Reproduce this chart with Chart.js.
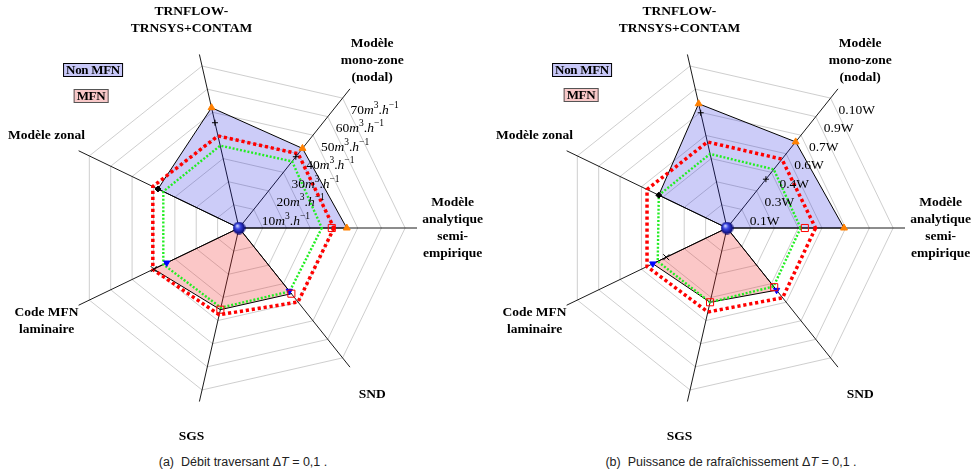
<!DOCTYPE html>
<html>
<head>
<meta charset="utf-8">
<script src="https://cdn.jsdelivr.net/npm/chart.js@4.4.1/dist/chart.umd.min.js"></script>
<style>
  body { margin: 0; background: #fff; }
  #wrap { position: relative; width: 976px; height: 470px; overflow: hidden; }
  #wrap canvas { position: absolute; top: 0; }
  .tag { position: absolute; transform: translate(-50%, -50%); font: bold 13px "Liberation Serif", serif;
         line-height: 12px; padding: 0 2px; white-space: nowrap; letter-spacing: -0.3px; }
  .nonmfn { background: #c8c8f8; border: 1px solid #000; }
  .mfn { background: #f8c8c8; border: 1px solid #555; }
  .caption { position: absolute; transform: translateX(-50%); top: 455px; white-space: nowrap;
             font: 12.5px "Liberation Sans", Arial, sans-serif; color: #222; }
</style>
</head>
<body>
<div id="wrap">
  <canvas id="debit" width="488" height="450" style="left:0"></canvas>
  <canvas id="puissance" width="488" height="450" style="left:488px"></canvas>

  <div class="tag nonmfn" style="left:93px;top:70px">Non MFN</div>
  <div class="tag mfn" style="left:91px;top:96px">MFN</div>
  <div class="tag nonmfn" style="left:582px;top:70px">Non MFN</div>
  <div class="tag mfn" style="left:581px;top:95px">MFN</div>

  <div class="caption" style="left:243px">(a)&nbsp;&nbsp;Débit traversant Δ<i>T</i> = 0,1 .</div>
  <div class="caption" style="left:731px">(b)&nbsp;&nbsp;Puissance de rafraîchissement Δ<i>T</i> = 0,1 .</div>
</div>

<script>
// axes, clockwise from the right-hand one
const models = [
  ['Modèle', 'analytique', 'semi-', 'empirique'],
  ['SND'],
  ['SGS'],
  ['Code MFN', 'laminaire'],
  ['Modèle zonal'],
  ['TRNFLOW-', 'TRNSYS+CONTAM'],
  ['Modèle', 'mono-zone', '(nodal)']
];

// (a) débit traversant
const debitTicks = ['10m³.h⁻¹', '20m³.h⁻¹', '30m³.h⁻¹', '40m³.h⁻¹', '50m³.h⁻¹', '60m³.h⁻¹', '70m³.h⁻¹'];
const debitNonMfn = [45.4, 0, 0, 0, 37.9, 52.0, 42.9];
const debitMfn = [0, 35.4, 35.3, 39.9, 0, 0, 0];
const debitTriangle = [45.4, null, null, null, null, 52.0, 42.9];
const debitPlus = [null, null, null, null, null, 45.5, 38.4];
const debitCross = [null, null, null, 39.9, null, null, null];
const debitDiamond = [null, null, null, null, 37.9, null, null];
const debitSquare = [39.1, 35.4, 35.3, null, null, null, null];
const debitTriDown = [null, 34.0, null, 33.8, null, null, null];
const debitRed = [40.0, 39.9, 37.5, 40.3, 40.3, 39.8, 40.0];
const debitGreen = [34.9, 34.2, 34.4, 35.4, 35.4, 35.6, 35.9];

// (b) puissance de rafraîchissement
const puissTicks = ['0.1W', '0.3W', '0.4W', '0.6W', '0.7W', '0.9W', '0.10W'];
const puissNonMfn = [0.493, 0, 0, 0, 0.319, 0.537, 0.464];
const puissMfn = [0, 0.335, 0.321, 0.347, 0, 0, 0];
const puissTriangle = [0.493, null, null, null, null, 0.537, 0.464];
const puissPlus = [null, null, null, null, null, 0.498, 0.263];
const puissCross = [null, null, null, 0.284, null, null, null];
const puissDiamond = [null, null, null, null, 0.319, null, null];
const puissSquare = [0.328, 0.319, 0.321, null, null, null, null];
const puissTriDown = [null, 0.335, null, 0.347, null, null, null];
const puissRed = [0.373, 0.376, 0.363, 0.374, 0.374, 0.372, 0.371];
const puissGreen = [0.310, 0.315, 0.321, 0.324, 0.319, 0.320, 0.316];

const centre = [0, null, null, null, null, null, null];

// shaded blue sphere used as the centre marker
function makeBall(d) {
  const c = document.createElement('canvas');
  c.width = c.height = d;
  const g = c.getContext('2d');
  const grad = g.createRadialGradient(d * 0.36, d * 0.32, 0.5, d / 2, d / 2, d / 2);
  grad.addColorStop(0, '#d0d6ff');
  grad.addColorStop(0.35, '#3a46e6');
  grad.addColorStop(1, '#000060');
  g.fillStyle = grad;
  g.beginPath();
  g.arc(d / 2, d / 2, d / 2 - 0.3, 0, Math.PI * 2);
  g.fill();
  return c;
}
const ball = makeBall(13);

const SUP = { '³': '3', '⁻': '−', '¹': '1' };
function drawTickText(ctx, text, x, y) {
  let cx = x;
  for (const ch of text) {
    let s = ch, dy = 0;
    let font = '13.5px "Liberation Serif", serif';
    if (SUP[ch]) { s = SUP[ch]; font = '9.5px "Liberation Serif", serif'; dy = -5; }
    else if (ch === 'm' || ch === 'h') font = 'italic 13.5px "Liberation Serif", serif';
    ctx.font = font;
    ctx.fillText(s, cx, y + dy);
    cx += ctx.measureText(s).width;
  }
}

// ring labels along the mono-zone axis + axis names outside the web
const radarText = {
  id: 'radarText',
  afterDatasetsDraw(chart, args, opts) {
    const scale = chart.scales.r;
    const ctx = chart.ctx;
    ctx.save();
    ctx.fillStyle = '#000';
    ctx.textBaseline = 'middle';
    ctx.textAlign = 'left';
    opts.ticks.forEach((txt, k) => {
      const p = scale.getPointPositionForValue(6, (k + 1) * opts.step);
      drawTickText(ctx, txt, p.x + 8, p.y + 12);
    });
    ctx.textAlign = 'center';
    ctx.font = 'bold 13.5px "Liberation Serif", serif';
    chart.data.labels.forEach((lines, i) => {
      const p = scale.getPointPosition(i, scale.drawingArea * 1.2);
      const top = p.y - (lines.length - 1) * 17 / 2;
      lines.forEach((ln, j) => ctx.fillText(ln, p.x, top + j * 17));
    });
    ctx.restore();
  }
};

function markers(data, style, radius, fillCol, lineCol, order, extra) {
  return Object.assign({
    data, showLine: false, fill: false, order,
    pointStyle: style, pointRadius: radius,
    pointBackgroundColor: fillCol, pointBorderColor: lineCol, pointBorderWidth: 1
  }, extra || {});
}

function makeRadar(id, s) {
  new Chart(document.getElementById(id), {
    type: 'radar',
    data: {
      labels: models,
      datasets: [
        markers(centre, ball, 7, '#00f', '#00f', 0),
        markers(s.triangle, 'triangle', 4, '#ff8000', '#ff8000', 1),
        markers(s.plus, 'cross', 3, '#000', '#000', 2),
        markers(s.cross, 'crossRot', 4.2, '#000', '#000', 3),
        markers(s.diamond, 'rectRot', 3, '#000', '#000', 4),
        markers(s.square, 'rect', 5, 'rgba(0,0,0,0)', '#ff0000', 5),
        markers(s.triDown, 'triangle', 3.6, '#0000ff', '#0000ff', 6, { pointRotation: 180 }),
        { data: s.green, order: 7, fill: false, borderColor: '#22ee22', borderWidth: 2.4,
          borderDash: [2, 1.8], pointRadius: 0 },
        { data: s.red, order: 8, fill: false, borderColor: '#ff0000', borderWidth: 3.5,
          borderDash: [3.2, 2.8], pointRadius: 0 },
        { data: s.mfn, order: 9, fill: 'origin', backgroundColor: 'rgba(240,30,30,0.25)',
          borderColor: '#000', borderWidth: 1, pointRadius: 0 },
        { data: s.nonMfn, order: 10, fill: 'origin', backgroundColor: 'rgba(0,0,220,0.2)',
          borderColor: '#000', borderWidth: 1, pointRadius: 0 }
      ]
    },
    options: {
      responsive: false,
      animation: false,
      events: [],
      layout: { padding: { left: 61, top: 50, right: 71, bottom: 44 } },
      scales: {
        r: {
          min: 0,
          max: s.step * 7.5,
          startAngle: 90,
          ticks: { display: false, stepSize: s.step, includeBounds: false },
          pointLabels: { display: false },
          grid: { circular: false, color: '#c8c8c8', lineWidth: 0.9 },
          angleLines: { color: '#000', lineWidth: 0.9 }
        }
      },
      plugins: {
        legend: { display: false },
        tooltip: { enabled: false },
        radarText: { ticks: s.ticks, step: s.step }
      }
    },
    plugins: [radarText]
  });
}

makeRadar('debit', {
  step: 10, ticks: debitTicks, nonMfn: debitNonMfn, mfn: debitMfn,
  triangle: debitTriangle, plus: debitPlus, cross: debitCross, diamond: debitDiamond,
  square: debitSquare, triDown: debitTriDown, red: debitRed, green: debitGreen
});
makeRadar('puissance', {
  step: 0.1, ticks: puissTicks, nonMfn: puissNonMfn, mfn: puissMfn,
  triangle: puissTriangle, plus: puissPlus, cross: puissCross, diamond: puissDiamond,
  square: puissSquare, triDown: puissTriDown, red: puissRed, green: puissGreen
});
</script>
</body>
</html>
